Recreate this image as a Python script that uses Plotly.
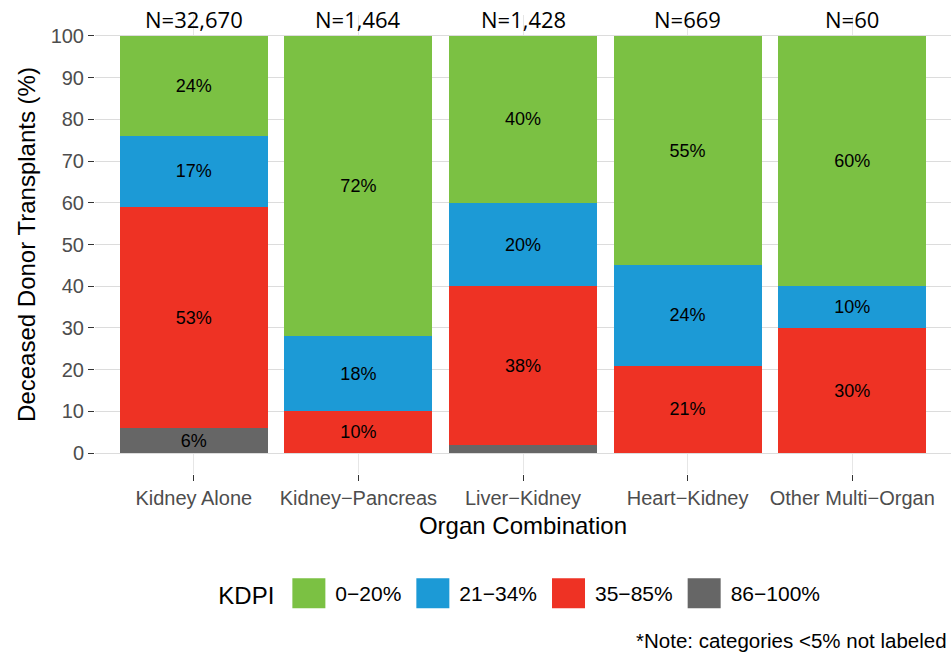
import plotly.graph_objects as go

categories = ["Kidney Alone", "Kidney\u2212Pancreas", "Liver\u2212Kidney", "Heart\u2212Kidney", "Other Multi\u2212Organ"]
n_labels = ["N=32,670", "N=1,464", "N=1,428", "N=669", "N=60"]
kdpi_0_20 = [24, 72, 40, 55, 60]
kdpi_21_34 = [17, 18, 20, 24, 10]
kdpi_35_85 = [53, 10, 38, 21, 30]
kdpi_86_100 = [6, 0, 2, 0, 0]
series_names = ["0\u221220%", "21\u221234%", "35\u221285%", "86\u2212100%"]
colors = ["#7BC143", "#1C9AD6", "#EE3224", "#666666"]

fig = go.Figure()
stack = [(kdpi_86_100, series_names[3], colors[3]),
         (kdpi_35_85, series_names[2], colors[2]),
         (kdpi_21_34, series_names[1], colors[1]),
         (kdpi_0_20, series_names[0], colors[0])]
for vals, name, col in stack:
    fig.add_trace(go.Bar(
        x=categories, y=vals, name=name, showlegend=True,
        marker=dict(color=col, line=dict(width=0)),
        text=[f"{v}%" if v >= 5 else "" for v in vals],
        textposition="inside", insidetextanchor="middle", constraintext="none",
        textfont=dict(color="black", size=18, family="Liberation Sans"),
        hoverinfo="skip",
    ))

for c, t in zip(categories, n_labels):
    fig.add_annotation(x=c, y=104.0, text=t, showarrow=False, yanchor="middle",
                       font=dict(size=22, color="black", family="Open Sans"))

fig.add_annotation(xref="paper", yref="paper", x=0.998, y=-0.3617, xanchor="right", yanchor="middle",
                   text="*Note: categories <5% not labeled", showarrow=False,
                   font=dict(size=20.5, color="black", family="Liberation Sans"))

fig.update_layout(
    width=951, height=656,
    barmode="stack", bargap=0.1,
    plot_bgcolor="white", paper_bgcolor="white",
    margin=dict(l=95, r=0, t=15, b=182),
    font=dict(family="Liberation Sans", color="black"),
    xaxis=dict(
        title=dict(text="Organ Combination", font=dict(size=24, color="black"), standoff=9),
        tickfont=dict(size=20, color="#4D4D4D"),
        ticks="outside", ticklen=6, tickcolor="#333333", tickwidth=1,
        showgrid=True, gridcolor="#E6E6E6", gridwidth=1,
        zeroline=False, showline=False,
        range=[-0.6, 4.6],
    ),
    yaxis=dict(
        title=dict(text="Deceased Donor Transplants (%)", font=dict(size=24, color="black"), standoff=8),
        tickfont=dict(size=20, color="#4D4D4D"),
        tickvals=list(range(0, 101, 10)),
        ticks="outside", ticklen=6, tickcolor="#333333", tickwidth=1,
        showgrid=True, gridcolor="#DCDCDC", gridwidth=1,
        zeroline=False, showline=False,
        range=[-5, 105],
    ),
    legend=dict(
        orientation="h", traceorder="reversed",
        xref="container", yref="container",
        x=0.2275, y=0.0945, xanchor="left", yanchor="middle",
        title=dict(text="KDPI", font=dict(size=24, color="black")),
        font=dict(size=21, color="black"),
        itemwidth=43,
    ),
)

# enlarge the legend colour keys to the reference's large square swatches
post = """
document.body.style.margin='0';
document.querySelectorAll('.legendpoints path').forEach(function(p){
  p.setAttribute('d','M16.5,15H-16.5V-15H16.5Z');
  p.style.strokeWidth='0px';
});
"""
fig.write_html("out.html", config={"displayModeBar": False}, post_script=post)
